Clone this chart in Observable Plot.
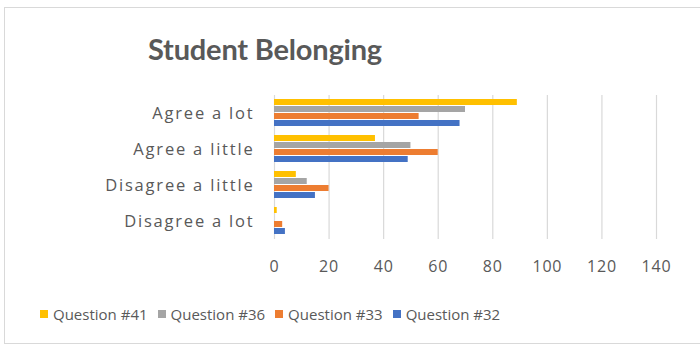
<!DOCTYPE html>
<html>
<head>
<meta charset="utf-8">
<script src="https://cdn.jsdelivr.net/npm/d3@7"></script>
<script src="https://cdn.jsdelivr.net/npm/@observablehq/plot@0.6"></script>
<style>
  html, body { margin: 0; padding: 0; background: #fff; }
  #wrap { position: relative; width: 700px; height: 349px; overflow: hidden; font-family: "Open Sans", sans-serif; color: #595959; }
  #frame { position: absolute; left: 4px; top: 7px; width: 800px; height: 337px; border: 1.5px solid #d9d9d9; box-sizing: border-box; pointer-events: none; }
  #title { height: 86px; box-sizing: border-box; padding-top: 32px; width: 530px; text-align: center; font-family: Lato, sans-serif; font-size: 29px; font-weight: 700; line-height: 34px; color: #595959; letter-spacing: -0.2px; }
  #chart svg { display: block; }
  #legend { display: flex; gap: 0; padding-top: 19px; padding-left: 40px; font-size: 15px; line-height: 18px; }
  .item { display: flex; align-items: center; margin-right: 10px; }
  .sw { width: 8px; height: 8px; margin-right: 5px; }
  .fylab { letter-spacing: 1.8px; font-size: 16.5px; }
  .xlab { letter-spacing: 0.8px; font-size: 16px; }
</style>
</head>
<body>
<div id="wrap">
  <div id="frame"></div>
  <div id="title">Student Belonging</div>
  <div id="chart"></div>
  <div id="legend"></div>
</div>
<script>
const categories = ["Agree a lot", "Agree a little", "Disagree a little", "Disagree a lot"];
const questions = ["Question #41", "Question #36", "Question #33", "Question #32"];
const colors = ["#FFC000", "#A5A5A5", "#ED7D31", "#4472C4"];
const q41 = [89, 37, 8, 1];
const q36 = [70, 50, 12, 0];
const q33 = [53, 60, 20, 3];
const q32 = [68, 49, 15, 4];
const xTicks = [0, 20, 40, 60, 80, 100, 120, 140];

const series = [q41, q36, q33, q32];
const data = [];
categories.forEach((c, i) => {
  questions.forEach((q, j) => data.push({category: c, question: q, value: series[j][i]}));
});

const chart = Plot.plot({
  width: 700,
  height: 200,
  marginTop: 8,
  marginBottom: 47,
  marginLeft: 274,
  marginRight: 44,
  style: {fontFamily: "Open Sans, sans-serif", fontSize: "16px", color: "#595959", background: "transparent"},
  x: {domain: [0, 140], ticks: xTicks, tickSize: 0, tickPadding: 21, label: null, grid: true},
  y: {domain: questions, axis: null, paddingInner: 0.08, paddingOuter: 0.4},
  fy: {domain: categories, padding: 0, label: null, axis: "left", tickSize: 0, tickPadding: 20},
  color: {domain: questions, range: colors},
  facet: {data: data, y: "category"},
  marks: [
    Plot.ruleX(xTicks, {stroke: "#d9d9d9", strokeWidth: 1.2}),
    Plot.barX(data, {x: "value", y: "question", fill: "question", inset: 0})
  ]
});
chart.querySelectorAll("[aria-label='x-grid']").forEach(g => g.remove());
chart.querySelectorAll("text").forEach(t => {
  t.setAttribute("fill", "#595959");
  const lab = t.textContent;
  if (categories.includes(lab)) t.classList.add("fylab");
  else if (xTicks.map(String).includes(lab)) t.classList.add("xlab");
});
document.getElementById("chart").appendChild(chart);

const legend = document.getElementById("legend");
questions.forEach((q, i) => {
  const it = document.createElement("div");
  it.className = "item";
  const sw = document.createElement("div");
  sw.className = "sw";
  sw.style.background = colors[i];
  const tx = document.createElement("span");
  tx.textContent = q;
  it.appendChild(sw); it.appendChild(tx);
  legend.appendChild(it);
});
</script>
</body>
</html>
